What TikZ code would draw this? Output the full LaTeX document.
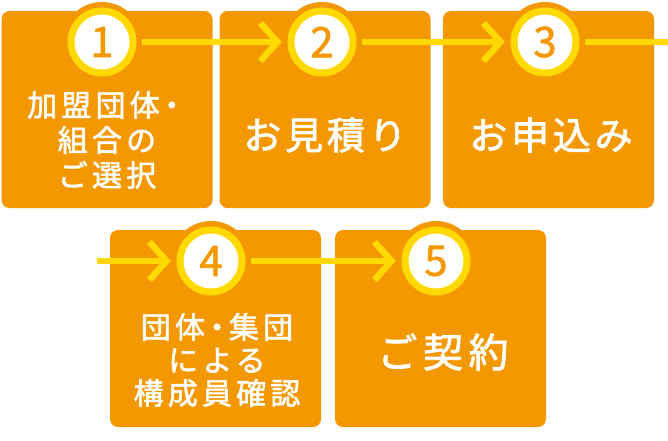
\documentclass[tikz,border=0pt]{standalone}
\usepackage{fontspec}
\newfontfamily\jpfont{Noto Sans CJK JP}[FakeBold=1.5]
\newfontfamily\jpwide{Noto Sans CJK JP}[LetterSpace=14, FakeBold=1.8]
\newfontfamily\jpbig{Noto Sans CJK JP}[LetterSpace=10, FakeBold=1.8]
\usetikzlibrary{arrows.meta}
\definecolor{boxorange}{HTML}{F39800}
\definecolor{ringyellow}{HTML}{FFD900}
\tikzset{
	stepbox/.style={rectangle, rounded corners=8pt, fill=boxorange, minimum width=211pt, minimum height=197pt, inner sep=0pt},
	halo/.style={circle, fill=boxorange, minimum size=80pt, inner sep=0pt},
	num/.style={circle, fill=white, draw=ringyellow, line width=7pt, minimum size=62pt, inner sep=0pt, text=boxorange, font=\jpfont\fontsize{42}{42}\selectfont},
	flow/.style={draw=ringyellow, line width=6.5pt, -{Straight Barb[length=17pt,width=38pt]}},
	steptext/.style={text=white, align=center, inner sep=0pt, font=\jpwide\fontsize{30}{35}\selectfont},
	bigtext/.style={text=white, align=center, inner sep=0pt, font=\jpbig\fontsize{38}{38}\selectfont}
}
\begin{document}
\begin{tikzpicture}[x=1pt, y=-1pt]
				\useasboundingbox (0,0) rectangle (668,440);
				% boxes
				\foreach \n/\x/\y in
				{1/107/109.5, 2/325/109.5, 3/548.5/109.5, 4/215.5/328.5, 5/440.5/328.5}{
					\node[stepbox] (b\n) at (\x,\y) {};
				}
				
				% orange halo round each number
				\foreach \n/\x/\y in
				{1/102/42, 2/322/42, 3/545/42, 4/211/261, 5/436/261}{
					\node[halo] (h\n) at (\x,\y) {};
				}
				
				\coordinate (in4) at (97,261);
				\coordinate (out3) at (668,42);
				\foreach \a/\b in
				{h1/h2, h2/h3, in4/h4, h4/h5}{
					\draw[flow] (\a)--(\b);
				}
				\draw[flow, -] (h3)--(out3);
				
				\foreach \n in {1,...,5}{
					\node[num] (n\n) at (h\n) {\n};
				}
				
				% top row
				\node[steptext] (t1) at (107,140) {加盟団体\kern-3pt・\\組合の\\ご選択};
				\node[bigtext] (t2) at (325,135) {お見積り};
				\node[bigtext] (t3) at (551,135) {お申込み};
				
				% bottom row
				\node[steptext, font=\jpwide\fontsize{30}{33}\selectfont] (t4) at (217,360) {団体\kern-3pt・\kern-3pt集団\\による\\構成員確認};
				\node[bigtext, font=\jpwide\fontsize{40}{40}\selectfont] (t5) at (443,352) {ご契約};
			\end{tikzpicture}
\end{document}
